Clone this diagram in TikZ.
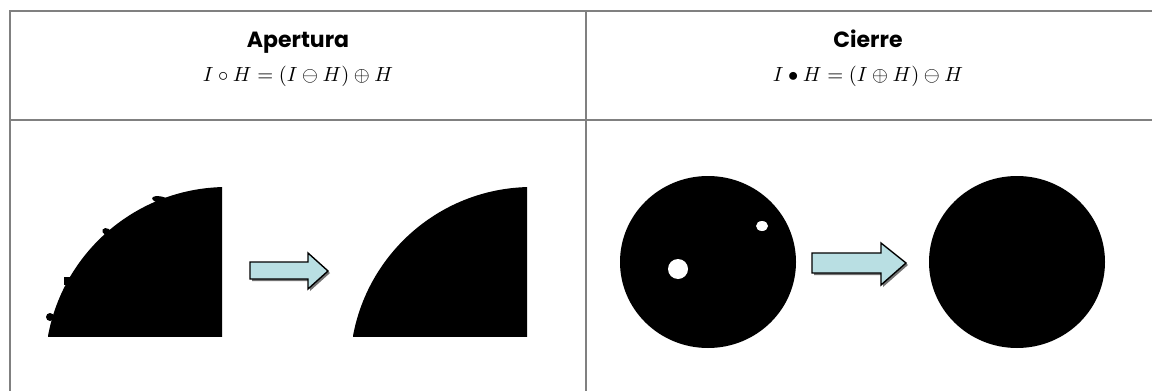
\documentclass[tikz,border=0pt]{standalone}
\usepackage{fontspec}
\usepackage{graphicx}
\setsansfont{Poppins}
\tikzset{
  grid/.style={draw=black!50, line width=2pt},
  title/.style={font=\sffamily\bfseries\fontsize{22}{25}\selectfont, inner sep=0pt, anchor=base},
  formula/.style={inner sep=0pt, anchor=base},
  arrowbody/.style={fill=arrowblue, draw=black, line width=1.4pt, line join=miter},
  arrowshadow/.style={fill=black!55, draw=none},
}
\definecolor{arrowblue}{HTML}{B9DFE3}
\begin{document}
\begin{tikzpicture}[x=1pt,y=-1pt]
\useasboundingbox (0,0) rectangle (1152,391);
\fill[white] (0,0) rectangle (1152,391);
% table lines
\draw[grid] (9,11) -- (1152,11);
\draw[grid] (10,11) -- (10,391);
\draw[grid] (586,11) -- (586,391);
\draw[grid] (10,120) -- (1152,120);
% headers
\node[title] (t1) at (298,47) {Apertura};
\node[formula] (f1) at (298,81) {\scalebox{2.05}{$I \circ H = (I \ominus H) \oplus H$}};
\node[title] (t2) at (868,47) {Cierre};
\node[formula] (f2) at (868,81) {\scalebox{2.05}{$I \bullet H = (I \oplus H) \ominus H$}};
% opening: input with bumps
\begin{scope}
  \clip (48,187) rectangle (222,336);
  \fill[black] (227,369) circle[radius=182];
\end{scope}
\fill[black, rotate around={-12:(161,200)}] (161,200) ellipse[x radius=9, y radius=3.5];
\fill[black, rotate around={-30:(107,232)}] (107,232) ellipse[x radius=5, y radius=3.5];
\fill[black] (64,277) rectangle (72,285);
\fill[black] (50,317) circle[radius=4];
% opening: output
\begin{scope}
  \clip (353,187) rectangle (527,336);
  \fill[black] (532,369) circle[radius=182];
\end{scope}
% arrow 1
\fill[arrowshadow] (252,264) -- (310,264) -- (310,255) -- (330,273) -- (310,291) -- (310,281) -- (252,281) -- cycle;
\draw[arrowbody] (250,262) -- (308,262) -- (308,253) -- (328,271) -- (308,289) -- (308,279) -- (250,279) -- cycle;
% closing: input
\fill[black] (708,262) ellipse[x radius=88, y radius=86];
\fill[white] (678,269) circle[radius=10];
\fill[white] (762,226) ellipse[x radius=6, y radius=5];
% arrow 2
\fill[arrowshadow] (814,255) -- (883,255) -- (883,245) -- (908,265) -- (883,287) -- (883,275) -- (814,275) -- cycle;
\draw[arrowbody] (812,253) -- (881,253) -- (881,243) -- (906,263) -- (881,285) -- (881,273) -- (812,273) -- cycle;
% closing: output
\fill[black] (1017,262) ellipse[x radius=88, y radius=86];
\end{tikzpicture}
\end{document}
